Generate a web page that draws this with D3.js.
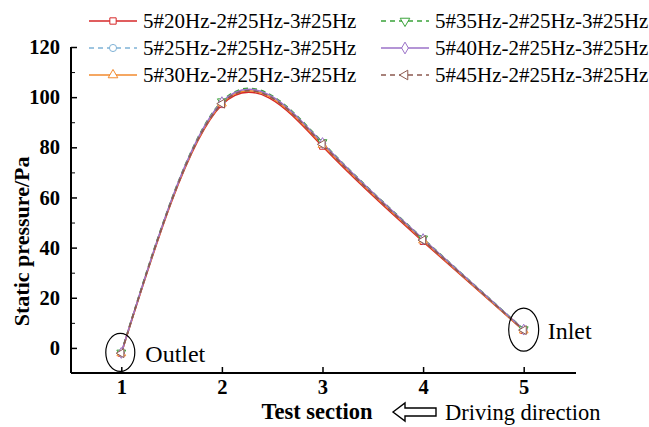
<!DOCTYPE html>
<html>
<head>
<meta charset="utf-8">
<script src="https://cdn.jsdelivr.net/npm/d3@7"></script>
<style>
  body { margin: 0; background: #fff; }
</style>
</head>
<body>
<div id="chart"></div>
<script>
var sections = [1, 2, 3, 4, 5];
var seriesNames = ["5#20Hz-2#25Hz-3#25Hz", "5#25Hz-2#25Hz-3#25Hz", "5#30Hz-2#25Hz-3#25Hz",
                   "5#35Hz-2#25Hz-3#25Hz", "5#40Hz-2#25Hz-3#25Hz", "5#45Hz-2#25Hz-3#25Hz"];
var s20 = [-2.2, 97.0, 80.4, 42.4, 6.9];
var s25 = [-2.0, 97.8, 81.4, 43.2, 7.2];
var s30 = [-2.1, 97.5, 81.0, 42.9, 7.0];
var s35 = [-1.9, 98.3, 82.0, 43.6, 7.4];
var s40 = [-2.0, 98.0, 81.7, 43.4, 7.3];
var s45 = [-2.1, 97.4, 81.2, 43.0, 7.1];
var yTicks = [0, 20, 40, 60, 80, 100, 120];

var colors = ["#d62728", "#7fb2d6", "#f28a2e", "#3aa33a", "#9b72c8", "#8c5a50"];
var dashes = [null, "5,4", null, "5,4", null, "5,4"];
var symbols = [d3.symbolSquare, d3.symbolCircle, d3.symbolTriangle, "down", d3.symbolDiamond, "left"];
var allSeries = [s20, s25, s30, s35, s40, s45];

var FONT = "Liberation Serif";
var width = 649, height = 427;
var margin = {left: 71, right: 73, top: 47, bottom: 54};

var svg = d3.select("#chart").append("svg")
    .attr("width", width).attr("height", height)
    .attr("font-family", FONT);

var x = d3.scaleLinear().domain([0.5, 5.52]).range([margin.left, width - margin.right]);
var y = d3.scaleLinear().domain([-10, 120]).range([height - margin.bottom, margin.top]);

function markerPath(sym, size) {
    if (sym === "down" || sym === "left") return d3.symbol(d3.symbolTriangle, size)();
    return d3.symbol(sym, size)();
}
function markerRot(sym) {
    if (sym === "down") return " rotate(180)";
    if (sym === "left") return " rotate(-90)";
    return "";
}
function txt(sel) {
    return sel.append("text").attr("font-family", FONT).attr("fill", "#000");
}

// axes
var xAxis = d3.axisBottom(x).tickValues(sections).tickSize(-6).tickPadding(6).tickFormat(d3.format("d"));
var gx = svg.append("g").attr("transform", "translate(0," + (height - margin.bottom) + ")").call(xAxis);
var yAxis = d3.axisLeft(y).tickValues(yTicks).tickSize(-6).tickPadding(11);
var gy = svg.append("g").attr("transform", "translate(" + margin.left + ",0)").call(yAxis);
svg.append("g").attr("transform", "translate(" + margin.left + ",0)")
    .call(d3.axisLeft(y).tickValues(d3.range(10, 120, 20)).tickSize(-4).tickFormat(""))
    .call(g => g.select(".domain").remove());
[gx, gy].forEach(function(g) {
    g.attr("font-family", FONT);
    g.select(".domain").attr("stroke-width", 2).attr("d",
        g === gx ? "M" + margin.left + ",0H" + (width - margin.right) : "M0," + margin.top + "V" + (height - margin.bottom));
    g.selectAll(".tick line").attr("stroke-width", 1.5);
    g.selectAll(".tick text").attr("font-size", 20.5).attr("font-weight", "bold")
        .attr("font-family", FONT).attr("fill", "#000");
});
svg.selectAll(".tick line").attr("stroke", "#000");

// lines
var line = d3.line().x((d, i) => x(sections[i])).y(d => y(d)).curve(d3.curveNatural);
allSeries.forEach(function(s, k) {
    svg.append("path").datum(s)
        .attr("d", line)
        .attr("fill", "none")
        .attr("stroke", colors[k])
        .attr("stroke-width", 1.6)
        .attr("stroke-dasharray", dashes[k]);
});
allSeries.forEach(function(s, k) {
    svg.append("g").selectAll("path").data(s).enter().append("path")
        .attr("d", markerPath(symbols[k], 34))
        .attr("transform", (d, i) => "translate(" + x(sections[i]) + "," + y(d) + ")" + markerRot(symbols[k]))
        .attr("fill", "#fff")
        .attr("stroke", colors[k])
        .attr("stroke-width", 1);
});

// outlet / inlet ellipses
svg.append("ellipse").attr("cx", x(1) - 1).attr("cy", y(s20[0]) - 1)
    .attr("rx", 14.5).attr("ry", 19).attr("fill", "none").attr("stroke", "#000").attr("stroke-width", 1.2);
txt(svg).attr("x", x(1) + 24).attr("y", y(s20[0]) + 9)
    .attr("font-size", 24).text("Outlet");
svg.append("ellipse").attr("cx", x(5)).attr("cy", y(s20[4]) - 1)
    .attr("rx", 15).attr("ry", 21.5).attr("fill", "none").attr("stroke", "#000").attr("stroke-width", 1.2);
txt(svg).attr("x", x(5) + 24).attr("y", y(s20[4]) + 8)
    .attr("font-size", 24).text("Inlet");

// axis titles
txt(svg).attr("transform", "translate(29," + y(42.5) + ") rotate(-90)")
    .attr("text-anchor", "middle").attr("font-size", 22).attr("font-weight", "bold")
    .text("Static pressure/Pa");
txt(svg).attr("x", 317).attr("y", 419).attr("text-anchor", "middle")
    .attr("font-size", 22.5).attr("font-weight", "bold").text("Test section");
svg.append("path")
    .attr("d", "M393,412 L405,403 L405,408 L436,408 L436,416 L405,416 L405,421 Z")
    .attr("fill", "#fff").attr("stroke", "#000").attr("stroke-width", 1.4);
txt(svg).attr("x", 445).attr("y", 420).attr("font-size", 22.5).text("Driving direction");

// legend
var legX = [89, 381], legY = [21, 48, 75];
seriesNames.forEach(function(name, k) {
    var col = Math.floor(k / 3), row = k % 3;
    var g = svg.append("g").attr("transform", "translate(" + legX[col] + "," + legY[row] + ")");
    g.append("line").attr("x1", 0).attr("x2", 48).attr("y1", 0).attr("y2", 0)
        .attr("stroke", colors[k]).attr("stroke-width", 1.6).attr("stroke-dasharray", dashes[k]);
    g.append("path").attr("d", markerPath(symbols[k], 40))
        .attr("transform", "translate(24,0)" + markerRot(symbols[k]))
        .attr("fill", "#fff").attr("stroke", colors[k]).attr("stroke-width", 1);
    txt(g).attr("x", 54).attr("y", 7).attr("font-size", 21).text(name);
});
</script>
</body>
</html>
